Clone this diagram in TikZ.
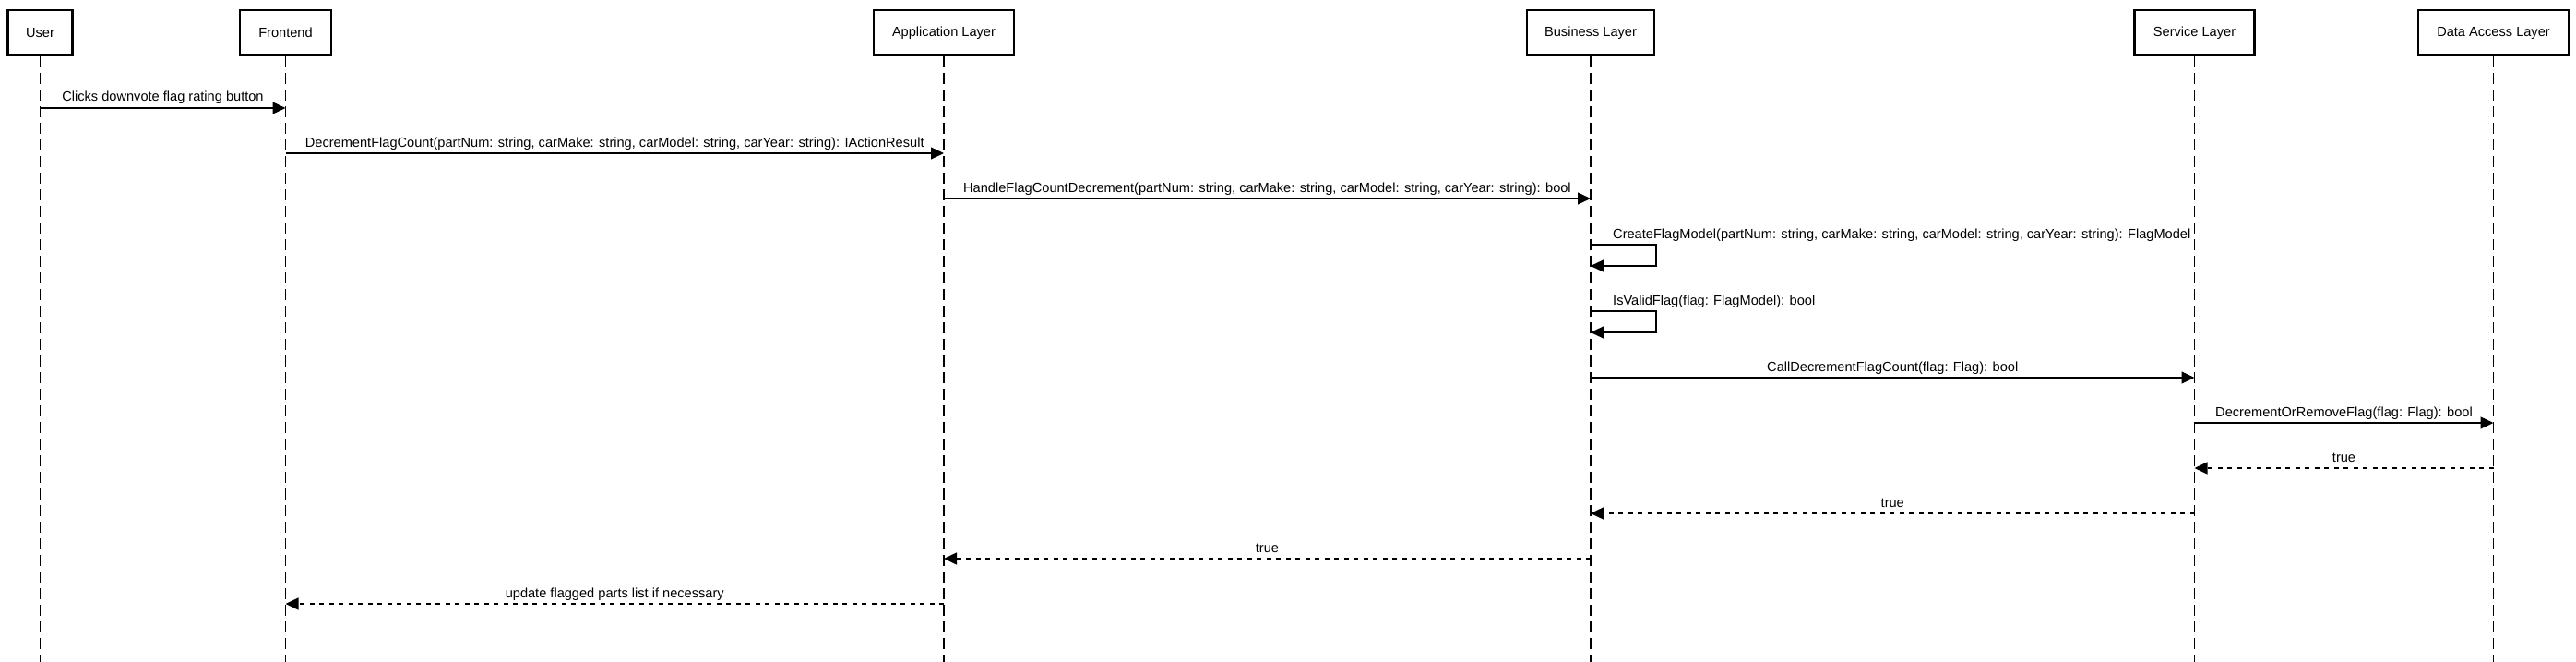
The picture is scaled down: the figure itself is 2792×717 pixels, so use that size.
\documentclass[tikz,border=0pt]{standalone}
\usepackage{fontspec}
\setmainfont{Liberation Sans}
\usetikzlibrary{arrows.meta}
\tikzset{
  actor/.style={draw, line width=2.3pt, minimum height=49pt, inner sep=0pt, font=\fontsize{14.6}{17}\selectfont},
  life/.style={draw, line width=1.5pt, dash pattern=on 12pt off 6pt},
  msg/.style={draw, line width=1.2pt, -{Triangle[length=14pt,width=13pt]}},
  ret/.style={msg, line width=1.5pt, dash pattern=on 5pt off 5.5pt},
  lbl/.style={font=\fontsize{14.6}{17}\selectfont, text height=11pt, text depth=3pt, inner sep=0pt, yshift=11pt},
  slbl/.style={font=\fontsize{14.6}{17}\selectfont, inner sep=0pt, anchor=base west}
}
\begin{document}
\begin{tikzpicture}[x=1pt,y=1pt]
\useasboundingbox (0,0) rectangle (2792,-717);
% actors
\node[actor, minimum width=70pt]  (user)  at (43.5,-35.5)  {User};
\node[actor, minimum width=99pt]  (front) at (309.5,-35.5) {Frontend};
\node[actor, minimum width=152pt] (app)   at (1023,-35.5)  {Application Layer};
\node[actor, minimum width=138pt] (biz)   at (1724,-35.5)  {Business Layer};
\node[actor, minimum width=130pt] (serv)  at (2378.5,-35.5) {Service Layer};
\node[actor, minimum width=163pt] (dal)   at (2702.5,-35.5) {Data Access Layer};
% lifelines
\coordinate (bottom) at (0,-717);
\foreach \n in {user,front,app,biz,serv,dal}{
  \draw[life] (\n.south) -- (\n |- bottom);
}
% rows
\coordinate (r1) at (0,-117);
\coordinate (r2) at (0,-166);
\coordinate (r3) at (0,-215);
\coordinate (r4a) at (0,-265);
\coordinate (r4b) at (0,-288);
\coordinate (r5a) at (0,-337);
\coordinate (r5b) at (0,-360);
\coordinate (r6) at (0,-409);
\coordinate (r7) at (0,-458);
\coordinate (r8) at (0,-507);
\coordinate (r9) at (0,-556);
\coordinate (r10) at (0,-605);
\coordinate (r11) at (0,-654);
\coordinate (loopx) at (1795,0);
% messages
\draw[msg] (user |- r1) -- node[lbl] (l1) {Clicks downvote flag rating button} (front |- r1);
\draw[msg] (front |- r2) -- node[lbl] (l2) {DecrementFlagCount(partNum: string, carMake: string, carModel: string, carYear: string): IActionResult} (app |- r2);
\draw[msg] (app |- r3) -- node[lbl] (l3) {HandleFlagCountDecrement(partNum: string, carMake: string, carModel: string, carYear: string): bool} (biz |- r3);
\draw[msg] (biz |- r4a) -- (loopx |- r4a) -- (loopx |- r4b) -- (biz |- r4b);
\node[slbl] (l4) at (1748,-258) {CreateFlagModel(partNum: string, carMake: string, carModel: string, carYear: string): FlagModel};
\draw[msg] (biz |- r5a) -- (loopx |- r5a) -- (loopx |- r5b) -- (biz |- r5b);
\node[slbl] (l5) at (1748,-330) {IsValidFlag(flag: FlagModel): bool};
\draw[msg] (biz |- r6) -- node[lbl] (l6) {CallDecrementFlagCount(flag: Flag): bool} (serv |- r6);
\draw[msg] (serv |- r7) -- node[lbl] (l7) {DecrementOrRemoveFlag(flag: Flag): bool} (dal |- r7);
\draw[ret] (dal |- r8) -- node[lbl] (l8) {true} (serv |- r8);
\draw[ret] (serv |- r9) -- node[lbl] (l9) {true} (biz |- r9);
\draw[ret] (biz |- r10) -- node[lbl] (l10) {true} (app |- r10);
\draw[ret] (app |- r11) -- node[lbl] (l11) {update flagged parts list if necessary} (front |- r11);
\end{tikzpicture}
\end{document}
